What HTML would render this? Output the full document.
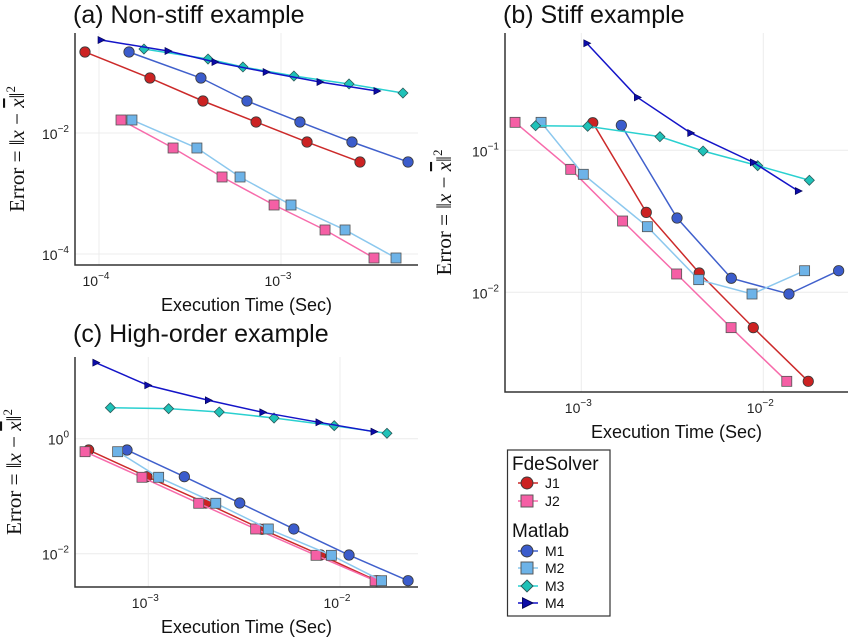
<!DOCTYPE html>
<html><head><meta charset="utf-8"><style>
body{margin:0;background:#fff;}
svg{display:block;font-family:"Liberation Sans","DejaVu Sans",sans-serif;}
</style></head><body>
<svg id="chart" width="850" height="637" viewBox="0 0 850 637" xmlns="http://www.w3.org/2000/svg"></svg>
<script>
// Data: log10(execution time) and log10(error) per series per panel
const seriesNames = ["J1","J2","M1","M2","M3","M4"];
const a_J1_t=[-4.077,-3.720,-3.429,-3.137,-2.857,-2.566];
const a_J1_e=[-0.661,-1.091,-1.471,-1.818,-2.149,-2.479];
const a_J2_t=[-3.879,-3.593,-3.324,-3.038,-2.758,-2.489];
const a_J2_e=[-1.785,-2.248,-2.727,-3.190,-3.603,-4.066];
const a_M1_t=[-3.835,-3.440,-3.187,-2.896,-2.610,-2.302];
const a_M1_e=[-0.661,-1.091,-1.471,-1.818,-2.149,-2.479];
const a_M2_t=[-3.819,-3.462,-3.225,-2.945,-2.648,-2.368];
const a_M2_e=[-1.785,-2.248,-2.727,-3.190,-3.603,-4.066];
const a_M3_t=[-3.753,-3.401,-3.209,-2.929,-2.626,-2.330];
const a_M3_e=[-0.612,-0.777,-0.909,-1.058,-1.190,-1.339];
const a_M4_t=[-3.989,-3.621,-3.363,-3.082,-2.786,-2.473];
const a_M4_e=[-0.463,-0.645,-0.826,-0.992,-1.157,-1.306];

const b_J1_t=[-2.937,-2.643,-2.352,-2.055,-1.753];
const b_J1_e=[-0.806,-1.437,-1.864,-2.249,-2.627];
const b_J2_t=[-3.364,-3.058,-2.773,-2.476,-2.177,-1.871];
const b_J2_e=[-0.803,-1.134,-1.498,-1.871,-2.249,-2.627];
const b_M1_t=[-2.780,-2.474,-2.176,-1.859,-1.586];
const b_M1_e=[-0.824,-1.477,-1.901,-2.012,-1.848];
const b_M2_t=[-3.221,-2.989,-2.637,-2.355,-2.062,-1.773];
const b_M2_e=[-0.803,-1.169,-1.538,-1.911,-2.012,-1.848];
const b_M3_t=[-3.251,-2.965,-2.568,-2.331,-2.031,-1.747];
const b_M3_e=[-0.827,-0.831,-0.904,-1.005,-1.108,-1.211];
const b_M4_t=[-2.970,-2.692,-2.399,-2.055,-1.808];
const b_M4_e=[-0.246,-0.627,-0.878,-1.085,-1.287];

const c_J1_t=[-3.311,-3.007,-2.701,-2.407,-2.101,-1.809];
const c_J1_e=[-0.197,-0.661,-1.118,-1.576,-2.023,-2.470];
const c_J2_t=[-3.330,-3.033,-2.737,-2.440,-2.125,-1.817];
const c_J2_e=[-0.226,-0.671,-1.123,-1.570,-2.028,-2.470];
const c_M1_t=[-3.111,-2.812,-2.523,-2.241,-1.953,-1.645];
const c_M1_e=[-0.197,-0.661,-1.118,-1.570,-2.023,-2.470];
const c_M2_t=[-3.160,-2.946,-2.648,-2.374,-2.045,-1.783];
const c_M2_e=[-0.226,-0.671,-1.123,-1.570,-2.028,-2.470];
const c_M3_t=[-3.198,-2.894,-2.630,-2.344,-2.030,-1.755];
const c_M3_e=[0.539,0.522,0.464,0.360,0.226,0.094];
const c_M4_t=[-3.274,-3.003,-2.687,-2.403,-2.110,-1.823];
const c_M4_e=[1.322,0.929,0.668,0.459,0.285,0.122];

const a_xticks=[-4,-3], a_yticks=[-2,-4];
const b_xticks=[-3,-2], b_yticks=[-1,-2];
const c_xticks=[-3,-2], c_yticks=[0,-2];

const NS="http://www.w3.org/2000/svg";
const svg=document.getElementById('chart');
function mk(tag,attrs,parent){const e=document.createElementNS(NS,tag);for(const k in attrs)e.setAttribute(k,attrs[k]);(parent||svg).appendChild(e);return e;}

const styles={
 J1:{line:"#cc2a2a",fill:"#cc2222",m:"circle"},
 J2:{line:"#f76bab",fill:"#f55fa5",m:"square"},
 M1:{line:"#4060cc",fill:"#3b5ccc",m:"circle"},
 M2:{line:"#8cc8ee",fill:"#6db3e8",m:"square"},
 M3:{line:"#2ad0d0",fill:"#1fc2b8",m:"diamond"},
 M4:{line:"#1414c8",fill:"#0c0ca8",m:"tri"}
};
function marker(g,type,x,y,st){
 let e;
 if(type==="circle") e=mk('circle',{cx:x,cy:y,r:5.2,fill:st.fill,stroke:"#3a3a3a","stroke-width":0.8},g);
 else if(type==="square") e=mk('rect',{x:x-5,y:y-5,width:10,height:10,fill:st.fill,stroke:"#555","stroke-width":0.8},g);
 else if(type==="diamond") e=mk('polygon',{points:`${x},${y-5} ${x+5},${y} ${x},${y+5} ${x-5},${y}`,fill:st.fill,stroke:"#2a5a5a","stroke-width":0.8},g);
 else e=mk('polygon',{points:`${x-3},${y-3.5} ${x+4},${y} ${x-3},${y+3.5}`,fill:st.fill,stroke:"#000050","stroke-width":0.6},g);
 return e;
}
function panel(p){
 const g=mk('g',{});
 
 
 const X=v=>p.x0+(v-p.xr)*p.xd, Y=v=>p.y0-(v-p.yr)*p.yd;
 p.xt.forEach(t=>{const l=mk('line',{x1:X(t),x2:X(t),y1:p.top,y2:p.bottom,stroke:"#ececec","stroke-width":1},g);
  
  const tx=mk('text',{x:X(t)-3,y:p.bottom+21,"font-size":14,"text-anchor":"middle",fill:"#222"},g);
  
  tx.innerHTML=`10<tspan dy="-7" font-size="10">${t<0?'−':''}${Math.abs(t)}</tspan>`;});
 p.yt.forEach(t=>{const l=mk('line',{x1:p.left,x2:p.right,y1:Y(t),y2:Y(t),stroke:"#ececec","stroke-width":1},g);
  
  const tx=mk('text',{x:p.left-6,y:Y(t)+6,"font-size":14,"text-anchor":"end",fill:"#222"},g);
  
  tx.innerHTML=`10<tspan dy="-7" font-size="10">${t<0?'−':''}${Math.abs(t)}</tspan>`;});
 const ax=mk('path',{d:`M${p.left},${p.top} V${p.bottom} H${p.right}`,fill:"none",stroke:"#333","stroke-width":1.5},g);
 
 const ti=mk('text',{x:p.left-2,y:p.titleY,"font-size":25,fill:"#111"},g);ti.textContent=p.title;
 
 const xl=mk('text',{x:(p.left+p.right)/2,y:p.bottom+46,"font-size":18,"text-anchor":"middle",fill:"#111"},g);xl.textContent="Execution Time (Sec)";
 
 const cy=(p.top+p.bottom)/2;
 const yl=mk('text',{x:p.ylx,y:cy,"font-size":21,"text-anchor":"middle",fill:"#111","font-family":"Liberation Serif, serif",transform:`rotate(-90 ${p.ylx} ${cy})`},g);
 yl.innerHTML='Error = ‖<tspan font-style="italic">x</tspan> − <tspan font-style="italic" text-decoration="overline">x</tspan>‖<tspan dy="-9" font-size="13">2</tspan>';
 
 seriesNames.forEach(n=>{
  const st=styles[n], ts=p.data[n][0], es=p.data[n][1];
  const sg=mk('g',{},g);
  
  const pl=mk('polyline',{points:ts.map((t,i)=>X(t)+','+Y(es[i])).join(' '),fill:"none",stroke:st.line,"stroke-width":1.5},sg);
  
  ts.forEach((t,i)=>{const m=marker(sg,st.m,X(t),Y(es[i]),st);
   });
 });
}
panel({id:'a',title:'(a) Non-stiff example',titleY:23,left:75,right:418,top:33,bottom:265,x0:99,xr:-4,xd:182,y0:133,yr:-2,yd:60.5,xt:a_xticks,yt:a_yticks,ylx:24,
 data:{J1:[a_J1_t,a_J1_e],J2:[a_J2_t,a_J2_e],M1:[a_M1_t,a_M1_e],M2:[a_M2_t,a_M2_e],M3:[a_M3_t,a_M3_e],M4:[a_M4_t,a_M4_e]}});
panel({id:'b',title:'(b) Stiff example',titleY:23,left:505,right:848,top:33,bottom:392,x0:581.3,xr:-3,xd:182,y0:150.3,yr:-1,yd:142,xt:b_xticks,yt:b_yticks,ylx:451,
 data:{J1:[b_J1_t,b_J1_e],J2:[b_J2_t,b_J2_e],M1:[b_M1_t,b_M1_e],M2:[b_M2_t,b_M2_e],M3:[b_M3_t,b_M3_e],M4:[b_M4_t,b_M4_e]}});
panel({id:'c',title:'(c) High-order example',titleY:342,left:75,right:418,top:357,bottom:587,x0:148.3,xr:-3,xd:191.7,y0:438.7,yr:0,yd:57.5,xt:c_xticks,yt:c_yticks,ylx:21,
 data:{J1:[c_J1_t,c_J1_e],J2:[c_J2_t,c_J2_e],M1:[c_M1_t,c_M1_e],M2:[c_M2_t,c_M2_e],M3:[c_M3_t,c_M3_e],M4:[c_M4_t,c_M4_e]}});

// legend
const lg=mk('g',{});


mk('rect',{x:507.5,y:450,width:102.5,height:166,fill:"#fff",stroke:"#333","stroke-width":1.2},lg);
const groups=[["FdeSolver",470,[["J1",483],["J2",501]]],["Matlab",537,[["M1",551],["M2",568],["M3",586],["M4",603]]]];
groups.forEach(([gt,gy,items])=>{
 const t=mk('text',{x:512,y:gy,"font-size":19,fill:"#111"},lg);t.textContent=gt;
 
 items.forEach(([n,y])=>{
  const st=styles[n];
  const e=mk('g',{},lg);
  
  
  mk('line',{x1:518,x2:538,y1:y,y2:y,stroke:st.line,"stroke-width":1.4},e);
  const big={circle:1.15,square:1.2,diamond:1.2,tri:1.5}[st.m];
  const m=marker(e,st.m,527,y,st);m.setAttribute('transform',`translate(527 ${y}) scale(${big}) translate(-527 ${-y})`);
  const tx=mk('text',{x:545,y:y+5,"font-size":14,fill:"#111"},e);tx.textContent=n;
 });
});
</script>
</body></html>
